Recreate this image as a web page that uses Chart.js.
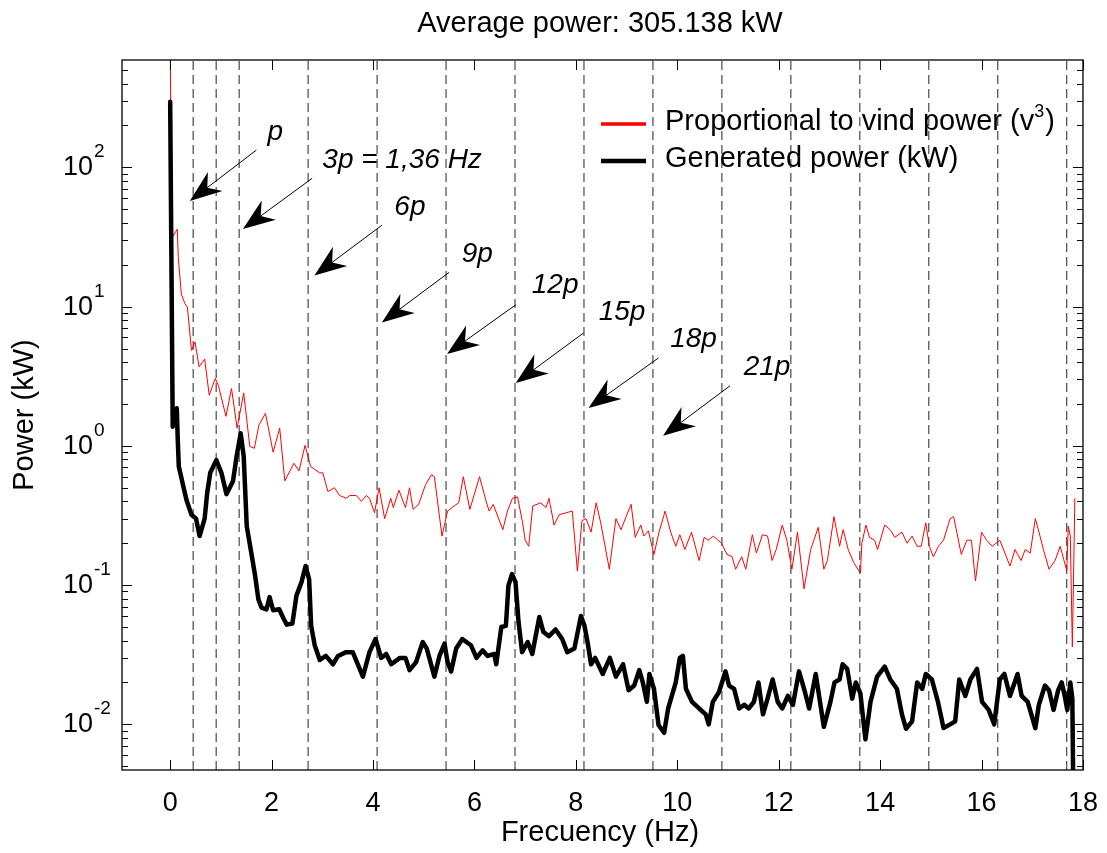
<!DOCTYPE html>
<html>
<head>
<meta charset="utf-8">
<title>Average power spectrum</title>
<script src="https://cdn.jsdelivr.net/npm/chart.js@4.4.1/dist/chart.umd.min.js"></script>
<style>
    html, body { margin: 0; padding: 0; background: #fff; }
    canvas { display: block; }
</style>
</head>
<body>
<canvas id="spectrum" width="1107" height="853"></canvas>
<script>
// Spectrum of wind power (red) and generated power (black)
const redFreq = [
    0.00, 0.03, 0.14, 0.16, 0.22, 0.29, 0.34, 0.42, 0.49, 0.57, 0.68, 0.77, 0.89, 0.95,
    1.10, 1.21, 1.32, 1.45, 1.57, 1.66, 1.75, 1.88, 2.03, 2.16, 2.26, 2.44, 2.54, 2.66,
    2.77, 2.95, 3.01, 3.11, 3.24, 3.34, 3.47, 3.54, 3.67, 3.77, 3.87, 3.93, 4.03, 4.12,
    4.23, 4.35, 4.40, 4.51, 4.64, 4.72, 4.79, 4.90, 5.03, 5.15, 5.21, 5.36, 5.47, 5.60,
    5.69, 5.78, 5.91, 6.10, 6.23, 6.29, 6.37, 6.56, 6.65, 6.75, 6.85, 6.95, 7.00, 7.07,
    7.15, 7.31, 7.41, 7.47, 7.57, 7.67, 7.80, 7.93, 8.03, 8.12, 8.20, 8.30, 8.40, 8.49,
    8.66, 8.79, 8.89, 9.02, 9.09, 9.17, 9.28, 9.34, 9.43, 9.54, 9.64, 9.76, 9.87, 9.97,
    10.05, 10.15, 10.28, 10.43, 10.53, 10.61, 10.71, 10.87, 10.98, 11.08, 11.15, 11.27,
    11.35, 11.48, 11.56, 11.68, 11.78, 11.87, 11.95, 12.07, 12.16, 12.26, 12.37, 12.50,
    12.63, 12.78, 12.89, 12.96, 13.09, 13.20, 13.27, 13.37, 13.48, 13.61, 13.64, 13.72,
    13.79, 13.89, 13.95, 14.09, 14.20, 14.29, 14.43, 14.53, 14.63, 14.73, 14.81, 14.90,
    14.97, 15.05, 15.15, 15.25, 15.38, 15.45, 15.60, 15.71, 15.80, 15.88, 16.00, 16.10,
    16.21, 16.36, 16.46, 16.56, 16.66, 16.78, 16.86, 16.96, 17.06, 17.12, 17.22, 17.33,
    17.45, 17.55, 17.68, 17.71, 17.75, 17.79, 17.84
];
const redPower = [
    900, 31, 36, 22.5, 12.3, 10.5, 9.9, 4.85, 5.56, 3.69, 4.2, 2.31, 3.05, 2.72,
    1.63, 2.58, 1.34, 2.40, 0.99, 0.96, 1.41, 1.71, 0.90, 1.34, 0.56, 0.75, 0.66, 1.01,
    0.71, 0.64, 0.64, 0.47, 0.50, 0.44, 0.42, 0.44, 0.44, 0.40, 0.44, 0.42, 0.33, 0.50,
    0.30, 0.42, 0.36, 0.48, 0.36, 0.50, 0.35, 0.38, 0.52, 0.62, 0.60, 0.225, 0.34, 0.37,
    0.39, 0.60, 0.35, 0.60, 0.40, 0.34, 0.38, 0.25, 0.34, 0.42, 0.43, 0.28, 0.21, 0.19,
    0.37, 0.39, 0.36, 0.42, 0.27, 0.32, 0.33, 0.34, 0.126, 0.29, 0.30, 0.24, 0.39, 0.28,
    0.13, 0.30, 0.25, 0.33, 0.38, 0.22, 0.27, 0.225, 0.245, 0.166, 0.24, 0.34, 0.24, 0.19,
    0.23, 0.18, 0.24, 0.15, 0.22, 0.21, 0.225, 0.20, 0.166, 0.16, 0.13, 0.16,
    0.13, 0.23, 0.17, 0.23, 0.225, 0.15, 0.18, 0.27, 0.21, 0.13, 0.24, 0.094,
    0.18, 0.26, 0.13, 0.15, 0.31, 0.19, 0.25, 0.18, 0.145, 0.122, 0.20, 0.27,
    0.22, 0.21, 0.18, 0.27, 0.25, 0.22, 0.24, 0.20, 0.225, 0.19, 0.19, 0.28,
    0.19, 0.16, 0.19, 0.21, 0.30, 0.31, 0.166, 0.21, 0.21, 0.107, 0.24, 0.21,
    0.19, 0.21, 0.17, 0.137, 0.18, 0.15, 0.18, 0.17, 0.30, 0.25, 0.18, 0.13,
    0.15, 0.19, 0.127, 0.265, 0.225, 0.036, 0.42
];

const blackFreq = [
    0.00, 0.05, 0.13, 0.15, 0.17, 0.26, 0.32, 0.42, 0.51, 0.58, 0.68, 0.73, 0.79, 0.91,
    1.01, 1.11, 1.24, 1.31, 1.39, 1.45, 1.51, 1.60, 1.67, 1.74, 1.80, 1.90, 1.96, 2.03,
    2.15, 2.23, 2.30, 2.41, 2.49, 2.59, 2.67, 2.74, 2.78, 2.85, 2.95, 3.07, 3.21, 3.31,
    3.47, 3.60, 3.70, 3.80, 3.93, 4.05, 4.16, 4.26, 4.36, 4.53, 4.64, 4.72, 4.85, 4.98,
    5.06, 5.21, 5.31, 5.41, 5.47, 5.54, 5.64, 5.76, 5.93, 6.04, 6.16, 6.26, 6.39, 6.43,
    6.53, 6.62, 6.67, 6.74, 6.81, 6.87, 6.94, 7.05, 7.14, 7.28, 7.36, 7.47, 7.60, 7.73,
    7.83, 7.97, 8.10, 8.17, 8.23, 8.30, 8.38, 8.53, 8.67, 8.79, 8.93, 9.04, 9.15, 9.25,
    9.32, 9.40, 9.45, 9.54, 9.63, 9.74, 9.82, 9.97, 10.05, 10.11, 10.17, 10.29, 10.43,
    10.56, 10.62, 10.70, 10.82, 10.95, 11.02, 11.12, 11.22, 11.32, 11.41, 11.51, 11.60,
    11.69, 11.78, 11.88, 11.98, 12.07, 12.18, 12.28, 12.40, 12.50, 12.60, 12.73, 12.89,
    13.02, 13.10, 13.20, 13.26, 13.35, 13.45, 13.52, 13.61, 13.71, 13.81, 13.94, 14.09,
    14.20, 14.33, 14.43, 14.51, 14.63, 14.73, 14.83, 14.90, 15.02, 15.14, 15.25, 15.38,
    15.48, 15.56, 15.68, 15.78, 15.91, 16.01, 16.14, 16.25, 16.36, 16.45, 16.56, 16.71,
    16.79, 16.91, 17.06, 17.13, 17.25, 17.33, 17.42, 17.51, 17.58, 17.64, 17.69, 17.75,
    17.79, 17.81
];
const blackPower = [
    296, 1.37, 1.86, 1.1, 0.71, 0.51, 0.41, 0.32, 0.30, 0.225, 0.30, 0.46, 0.64, 0.79,
    0.64, 0.45, 0.56, 0.84, 1.23, 0.84, 0.265, 0.17, 0.12, 0.079, 0.069, 0.067, 0.082, 0.066,
    0.067, 0.058, 0.052, 0.053, 0.084, 0.105, 0.137, 0.11, 0.051, 0.037, 0.029, 0.031, 0.027, 0.031,
    0.033, 0.033, 0.027, 0.022, 0.033, 0.041, 0.030, 0.032, 0.027, 0.030, 0.030, 0.0245, 0.028, 0.039,
    0.035, 0.022, 0.031, 0.038, 0.028, 0.024, 0.035, 0.041, 0.037, 0.030, 0.034, 0.031, 0.032, 0.027,
    0.050, 0.051, 0.099, 0.12, 0.105, 0.054, 0.033, 0.039, 0.032, 0.059, 0.046, 0.043, 0.048, 0.041,
    0.033, 0.035, 0.060, 0.051, 0.039, 0.027, 0.030, 0.023, 0.030, 0.022, 0.027, 0.0176, 0.019, 0.0245,
    0.020, 0.0145, 0.023, 0.018, 0.0099, 0.0087, 0.013, 0.020, 0.030, 0.031, 0.018, 0.0145, 0.013,
    0.0118, 0.010, 0.0145, 0.017, 0.024, 0.019, 0.018, 0.013, 0.0138, 0.013, 0.0145, 0.020,
    0.0118, 0.0153, 0.021, 0.0145, 0.013, 0.016, 0.0138, 0.024, 0.018, 0.013, 0.023, 0.0096,
    0.0145, 0.020, 0.021, 0.027, 0.025, 0.0153, 0.020, 0.0167, 0.0078, 0.0145, 0.022, 0.026,
    0.021, 0.018, 0.0118, 0.0093, 0.0105, 0.020, 0.018, 0.023, 0.021, 0.0145, 0.0094, 0.010,
    0.0105, 0.021, 0.016, 0.021, 0.025, 0.0145, 0.0127, 0.010, 0.021, 0.023, 0.016, 0.023,
    0.016, 0.0145, 0.0094, 0.0138, 0.019, 0.0176, 0.0127, 0.0176, 0.020, 0.016, 0.0127, 0.020,
    0.0153, 0.003
];

// rotor harmonics (p = 0.453 Hz)
const harmonicFreq = [0.453, 0.907, 1.36, 2.72, 4.08, 5.44, 6.80, 8.16, 9.52, 10.88, 12.24, 13.60, 14.96, 16.32, 17.68];

// arrow annotations: label position, arrow tail and tip (Hz, kW)
const arrowLabels = ['p', '3p = 1,36 Hz', '6p', '9p', '12p', '15p', '18p', '21p'];
const labelFreq = [1.92, 3.00, 4.42, 5.75, 7.13, 8.45, 9.86, 11.31];
const labelPower = [157, 98.9, 45.5, 20.9, 12.5, 8.0, 5.13, 3.23];
const tailFreq = [1.70, 2.80, 4.175, 5.50, 6.815, 8.15, 9.63, 11.04];
const tailPower = [133, 83.4, 38.4, 17.6, 10.3, 6.46, 4.28, 2.70];
const tipFreq = [0.387, 1.435, 2.845, 4.175, 5.46, 6.815, 8.25, 9.72];
const tipPower = [57.3, 36.1, 16.7, 7.7, 4.57, 2.83, 1.87, 1.18];

const xTicks = [0, 2, 4, 6, 8, 10, 12, 14, 16, 18];
const yDecades = [-2, -1, 0, 1, 2];
const xMin = -0.95, xMax = 18;
const yMin = 0.0047, yMax = 590;

const FONT = '"Liberation Sans", Arial, Helvetica, sans-serif';

const toPoints = (xs, ys) => xs.map((f, i) => ({ x: f, y: ys[i] }));

const harmonicSets = harmonicFreq.map(f => ({
    label: 'harmonic',
    data: [{ x: f, y: yMin }, { x: f, y: yMax }],
    borderColor: '#222',
    borderWidth: 1,
    borderDash: [9, 5],
    pointRadius: 0,
    order: 3
}));

// axes box, MATLAB style ticks, labels, legend and arrows
const decorations = {
    id: 'decorations',
    afterDatasetsDraw(chart) {
        const { ctx, chartArea: a, scales: { x, y } } = chart;
        ctx.save();
        ctx.strokeStyle = '#000';
        ctx.fillStyle = '#000';

        // frame
        ctx.lineWidth = 1.3;
        ctx.strokeRect(a.left, a.top, a.right - a.left, a.bottom - a.top);

        // x ticks (bottom and top, inside)
        ctx.lineWidth = 1;
        ctx.beginPath();
        xTicks.forEach(v => {
            const px = Math.round(x.getPixelForValue(v)) + 0.5;
            ctx.moveTo(px, a.bottom); ctx.lineTo(px, a.bottom - 10);
            ctx.moveTo(px, a.top); ctx.lineTo(px, a.top + 10);
        });
        // y ticks, major and minor (left and right, inside)
        for (let e = -3; e <= 2; e++) {
            for (let m = 1; m <= 9; m++) {
                const v = m * Math.pow(10, e);
                if (v < yMin || v > yMax) continue;
                const py = Math.round(y.getPixelForValue(v)) + 0.5;
                const len = m === 1 ? 10 : 6;
                ctx.moveTo(a.left, py); ctx.lineTo(a.left + len, py);
                ctx.moveTo(a.right, py); ctx.lineTo(a.right - len, py);
            }
        }
        ctx.stroke();

        // y tick labels 10^n
        yDecades.forEach(e => {
            const py = y.getPixelForValue(Math.pow(10, e));
            ctx.textAlign = 'left';
            ctx.textBaseline = 'alphabetic';
            ctx.font = '27px ' + FONT;
            ctx.fillText('10', 63, py + 8);
            const w = ctx.measureText('10').width;
            ctx.font = '19px ' + FONT;
            ctx.fillText(String(e), 63 + w + 1, py - 10);
        });

        // title and axis titles
        ctx.font = '29px ' + FONT;
        ctx.textAlign = 'center';
        ctx.fillText('Average power: 305.138 kW', 600, 32);
        ctx.fillText('Frecuency (Hz)', 600, 841);
        ctx.save();
        ctx.translate(33, 415);
        ctx.rotate(-Math.PI / 2);
        ctx.fillText('Power (kW)', 0, 0);
        ctx.restore();

        // legend
        const legendItems = chart.data.datasets.filter(d => d.label !== 'harmonic');
        legendItems.forEach((d, i) => {
            const ly = 124 + i * 37;
            ctx.strokeStyle = d.borderColor;
            ctx.lineWidth = i === 0 ? 3.5 : 4.5;
            ctx.beginPath();
            ctx.moveTo(601, ly); ctx.lineTo(646, ly);
            ctx.stroke();
            ctx.textAlign = 'left';
            ctx.font = '29px ' + FONT;
            const parts = d.label.split('³');
            let tx = 665;
            ctx.fillText(parts[0], tx, ly + 6);
            if (parts.length > 1) {
                tx += ctx.measureText(parts[0]).width;
                ctx.font = '18px ' + FONT;
                ctx.fillText('3', tx, ly - 7);
                tx += ctx.measureText('3').width + 1;
                ctx.font = '29px ' + FONT;
                ctx.fillText(parts[1], tx, ly + 6);
            }
        });

        // arrows with labels
        ctx.strokeStyle = '#000';
        arrowLabels.forEach((txt, i) => {
            const x0 = x.getPixelForValue(tailFreq[i]), y0 = y.getPixelForValue(tailPower[i]);
            const x1 = x.getPixelForValue(tipFreq[i]), y1 = y.getPixelForValue(tipPower[i]);
            const dx = x0 - x1, dy = y0 - y1, len = Math.hypot(dx, dy);
            const ux = dx / len, uy = dy / len, nx = -uy, ny = ux;
            ctx.lineWidth = 1;
            ctx.beginPath();
            ctx.moveTo(x0, y0); ctx.lineTo(x1 + ux * 18, y1 + uy * 18);
            ctx.stroke();
            ctx.beginPath();
            ctx.moveTo(x1, y1);
            ctx.lineTo(x1 + ux * 32 + nx * 12, y1 + uy * 32 + ny * 12);
            ctx.lineTo(x1 + ux * 22, y1 + uy * 22);
            ctx.lineTo(x1 + ux * 32 - nx * 12, y1 + uy * 32 - ny * 12);
            ctx.closePath();
            ctx.fill();

            ctx.font = 'italic 28px ' + FONT;
            ctx.textAlign = 'left';
            ctx.fillText(txt, x.getPixelForValue(labelFreq[i]), y.getPixelForValue(labelPower[i]));
        });

        ctx.restore();
    }
};

new Chart(document.getElementById('spectrum'), {
    type: 'line',
    data: {
        datasets: [
            {
                label: 'Proportional to vind power (v³)',
                data: toPoints(redFreq, redPower),
                borderColor: '#ff0000',
                borderWidth: 1,
                pointRadius: 0,
                tension: 0,
                order: 1
            },
            {
                label: 'Generated power (kW)',
                data: toPoints(blackFreq, blackPower),
                borderColor: '#000',
                borderWidth: 4.5,
                borderJoinStyle: 'round',
                borderCapStyle: 'round',
                pointRadius: 0,
                tension: 0,
                order: 0
            },
            ...harmonicSets
        ]
    },
    options: {
        responsive: false,
        animation: false,
        layout: { padding: { left: 122, right: 21, top: 60, bottom: 0 } },
        plugins: {
            legend: { display: false },
            tooltip: { enabled: false }
        },
        scales: {
            x: {
                type: 'linear',
                min: xMin,
                max: xMax,
                grid: { display: false },
                border: { display: false },
                afterBuildTicks: s => { s.ticks = xTicks.map(v => ({ value: v })); },
                afterFit: s => { s.height = 83; },
                ticks: {
                    color: '#000',
                    font: { size: 27, family: FONT },
                    padding: 9,
                    maxRotation: 0,
                    autoSkip: false,
                    callback: v => String(v)
                }
            },
            y: {
                type: 'logarithmic',
                min: yMin,
                max: yMax,
                display: false
            }
        }
    },
    plugins: [decorations]
});
</script>
</body>
</html>
